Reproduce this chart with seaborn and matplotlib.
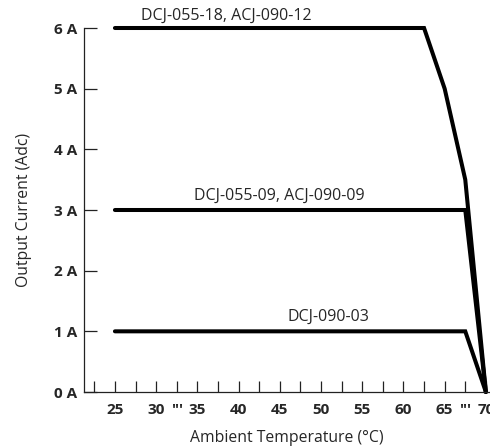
import matplotlib
matplotlib.use("Agg")
import matplotlib.pyplot as plt
import pandas as pd
import seaborn as sns

# x values are positions on the broken temperature axis (one tick per step)
tick_pos = list(range(20))
label_pos = [1, 3, 4, 5, 7, 9, 11, 13, 15, 17, 18, 19]
label_txt = ["25", "30", "'''", "35", "40", "45", "50", "55", "60", "65", "'''", "70"]

y_ticks = [0, 1, 2, 3, 4, 5, 6]
y_labels = ["0 A", "1 A", "2 A", "3 A", "4 A", "5 A", "6 A"]

curve_18_x = [1, 16, 17, 18, 19]
curve_18_y = [6, 6, 5, 3.5, 0]
curve_09_x = [1, 18, 19]
curve_09_y = [3, 3, 0]
curve_03_x = [1, 18, 19]
curve_03_y = [1, 1, 0]

curve_names = ["DCJ-055-18, ACJ-090-12", "DCJ-055-09, ACJ-090-09", "DCJ-090-03"]

sns.set_style("ticks")
plt.rcParams['font.family'] = ['Open Sans', 'DejaVu Sans']

fig = plt.figure(figsize=(4.9, 4.48), dpi=100)
ax = fig.add_axes([84 / 490, 56 / 448, 406 / 490, 364 / 448])

curves = [(curve_18_x, curve_18_y), (curve_09_x, curve_09_y), (curve_03_x, curve_03_y)]
for name, (xs, ys) in zip(curve_names, curves):
    df = pd.DataFrame({"pos": xs, "amps": ys})
    sns.lineplot(data=df, x="pos", y="amps", sort=False, color="black",
                 linewidth=2.9, ax=ax, clip_on=False, solid_joinstyle="miter")

ax.text(6.4, 6.07, curve_names[0], fontsize=11.5, ha="center", va="bottom")
ax.text(9.0, 3.1, curve_names[1], fontsize=11.5, ha="center", va="bottom")
ax.text(11.35, 1.1, curve_names[2], fontsize=11.5, ha="center", va="bottom")

ax.set_xlim(-0.5, 19.2)
ax.set_ylim(0, 6)

x_labels = [""] * len(tick_pos)
for p, t in zip(label_pos, label_txt):
    x_labels[tick_pos.index(p)] = t
ax.set_xticks(tick_pos)
ax.set_xticklabels(x_labels, fontweight="bold", fontsize=11)
ax.tick_params(axis="x", bottom=True, direction="in", length=8,
               width=0.9, color="#222222", pad=8)

ax.set_yticks(y_ticks)
ax.set_yticklabels(y_labels, fontweight="bold", fontsize=11)
ax.tick_params(axis="y", left=True, direction="in", length=9, width=0.9,
               color="#222222", pad=5)

sns.despine(ax=ax)
for side in ["left", "bottom"]:
    ax.spines[side].set_linewidth(0.9)
    ax.spines[side].set_color("#222222")

ax.set_xlabel("Ambient Temperature (°C)", fontsize=11.3, labelpad=9)
ax.set_ylabel("Output Current (Adc)", fontsize=11.3, labelpad=16)

fig.savefig("out.png", dpi=100)
